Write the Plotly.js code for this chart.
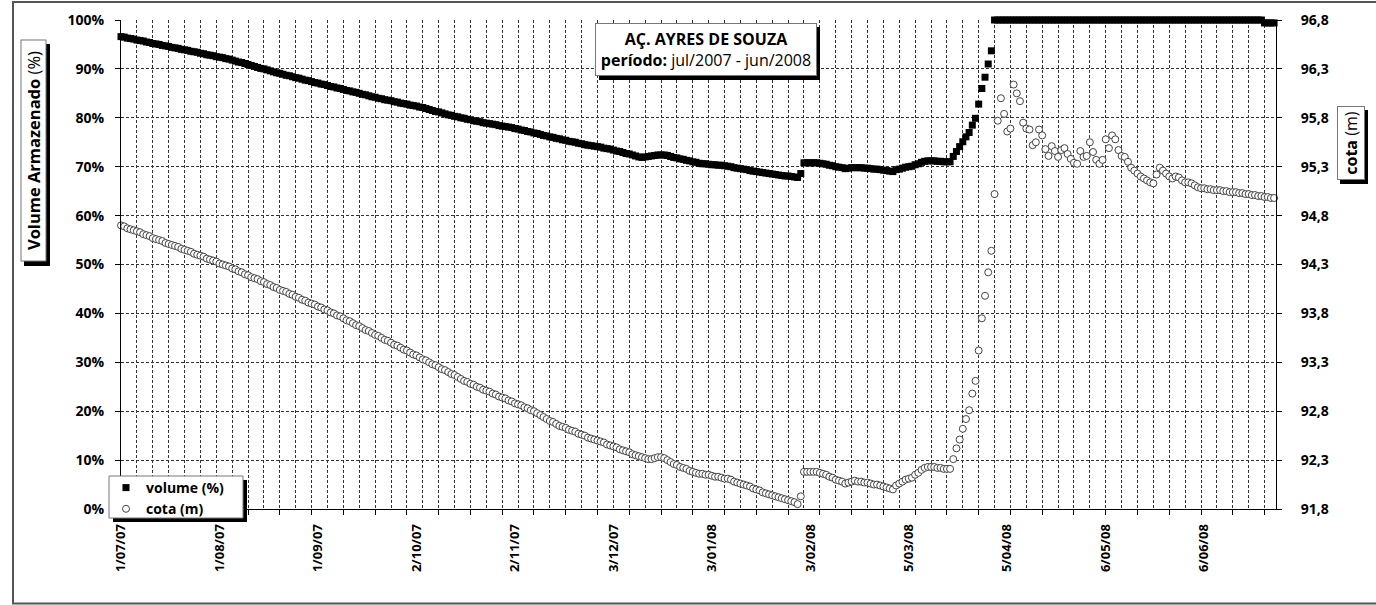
<!DOCTYPE html>
<html><head><meta charset="utf-8">
<script src="https://cdn.plot.ly/plotly-3.0.1.min.js"></script>
<style>html,body{margin:0;padding:0;background:#fff;}#chart{width:1376px;height:605px;}</style>
</head><body><div id="chart"></div>
<script>
// ---------- DATA ----------
const startDate = '2007-07-01';
const endRange = '2008-06-28 14:24';
const tickDates = ['2007-07-01','2007-08-01','2007-09-01','2007-10-02','2007-11-02','2007-12-03',
                   '2008-01-03','2008-02-03','2008-03-05','2008-04-05','2008-05-06','2008-06-06'];
const tickLabels = ['1/07/07','1/08/07','1/09/07','2/10/07','2/11/07','3/12/07',
                    '3/01/08','3/02/08','5/03/08','5/04/08','6/05/08','6/06/08'];
const yLeftTicks = [0,10,20,30,40,50,60,70,80,90,100];
const yLeftLabels = ['0%','10%','20%','30%','40%','50%','60%','70%','80%','90%','100%'];
const yRightTicks = [91.8,92.3,92.8,93.3,93.8,94.3,94.8,95.3,95.8,96.3,96.8];

// volume (%) - daily from 1/07/07
const volume = [
96.6,96.5,96.3,96.2,96.1,95.9,95.8,95.7,95.5,95.4,
95.2,95.1,95.0,94.8,94.7,94.6,94.4,94.3,94.2,94.0,
93.9,93.8,93.6,93.5,93.4,93.2,93.1,92.9,92.8,92.7,
92.5,92.4,92.3,92.1,92.0,91.8,91.6,91.4,91.3,91.1,
90.9,90.7,90.5,90.3,90.1,90.0,89.8,89.6,89.4,89.2,
89.1,88.9,88.7,88.6,88.4,88.2,88.1,87.9,87.7,87.6,
87.4,87.2,87.1,86.9,86.8,86.6,86.4,86.3,86.1,86.0,
85.8,85.6,85.5,85.3,85.2,85.0,84.8,84.7,84.5,84.3,
84.2,84.0,83.9,83.7,83.6,83.5,83.3,83.2,83.0,82.9,
82.8,82.6,82.5,82.4,82.2,82.1,81.9,81.7,81.5,81.3,
81.2,81.0,80.8,80.6,80.5,80.3,80.2,80.0,79.9,79.7,
79.6,79.4,79.3,79.2,79.0,78.9,78.8,78.7,78.6,78.4,
78.3,78.2,78.1,78.0,77.8,77.7,77.5,77.4,77.2,77.1,
76.9,76.8,76.6,76.4,76.3,76.1,76.0,75.8,75.7,75.5,
75.4,75.2,75.1,75.0,74.8,74.7,74.5,74.4,74.3,74.2,
74.1,74.0,73.8,73.7,73.6,73.4,73.2,73.1,72.9,72.7,
72.6,72.4,72.2,72.0,71.9,72.0,72.1,72.2,72.3,72.4,
72.4,72.4,72.3,72.1,71.9,71.8,71.6,71.5,71.3,71.2,
71.0,70.9,70.7,70.6,70.6,70.5,70.4,70.4,70.3,70.3,
70.2,70.1,70.0,69.8,69.7,69.6,69.5,69.4,69.2,69.1,
69.0,68.9,68.8,68.7,68.6,68.5,68.4,68.3,68.2,68.1,
68.1,68.0,67.9,67.8,68.6,70.8,70.8,70.8,70.8,70.8,
70.7,70.6,70.5,70.3,70.2,70.0,69.9,69.8,69.6,69.7,
69.8,69.8,69.8,69.8,69.7,69.7,69.6,69.5,69.5,69.4,
69.3,69.2,69.1,69.0,69.4,69.5,69.7,69.9,70.0,70.1,
70.4,70.6,70.9,71.1,71.2,71.2,71.2,71.1,71.1,71.0,
71.0,71.0,72.1,73.1,74.1,75.1,76.1,77.0,78.5,79.9,
82.8,86.0,88.3,91.0,93.7,100,100,100,100,100,
100,100,100,100,100,100,100,100,100,100,
100,100,100,100,100,100,100,100,100,100,
100,100,100,100,100,100,100,100,100,100,
100,100,100,100,100,100,100,100,100,100,
100,100,100,100,100,100,100,100,100,100,
100,100,100,100,100,100,100,100,100,100,
100,100,100,100,100,100,100,100,100,100,
100,100,100,100,100,100,100,100,100,100,
99.4,99.4,99.4,99.4
];

// cota (m) - daily from 1/07/07
const cota = [
94.70,94.69,94.67,94.66,94.65,94.64,94.63,94.61,94.60,94.59,
94.57,94.56,94.55,94.54,94.52,94.51,94.50,94.49,94.48,94.46,
94.45,94.44,94.43,94.41,94.40,94.39,94.38,94.36,94.35,94.34,
94.33,94.31,94.30,94.29,94.28,94.26,94.25,94.23,94.22,94.20,
94.19,94.17,94.16,94.15,94.13,94.12,94.10,94.09,94.07,94.06,
94.04,94.03,94.02,94.00,93.99,93.97,93.96,93.94,93.93,93.91,
93.90,93.89,93.87,93.86,93.84,93.83,93.81,93.80,93.78,93.77,
93.75,93.73,93.72,93.70,93.68,93.67,93.65,93.63,93.62,93.60,
93.58,93.57,93.55,93.53,93.52,93.50,93.48,93.47,93.45,93.43,
93.42,93.40,93.38,93.37,93.35,93.33,93.32,93.30,93.28,93.27,
93.25,93.23,93.22,93.20,93.18,93.17,93.15,93.13,93.11,93.10,
93.08,93.07,93.05,93.04,93.02,93.01,93.00,92.98,92.97,92.95,
92.94,92.93,92.91,92.90,92.88,92.87,92.86,92.84,92.83,92.81,
92.80,92.78,92.76,92.74,92.72,92.70,92.69,92.67,92.65,92.64,
92.63,92.61,92.60,92.59,92.57,92.56,92.55,92.53,92.52,92.51,
92.50,92.49,92.48,92.46,92.45,92.44,92.43,92.41,92.40,92.39,
92.38,92.36,92.35,92.34,92.33,92.32,92.31,92.31,92.32,92.33,
92.33,92.32,92.30,92.28,92.26,92.25,92.23,92.22,92.21,92.19,
92.18,92.17,92.16,92.16,92.15,92.15,92.14,92.13,92.13,92.12,
92.11,92.11,92.10,92.08,92.07,92.06,92.05,92.04,92.03,92.01,
92.00,91.99,91.97,91.96,91.95,91.94,91.93,91.92,91.91,91.90,
91.89,91.88,91.87,91.85,91.93,92.18,92.18,92.18,92.18,92.18,
92.17,92.16,92.15,92.13,92.12,92.10,92.09,92.08,92.06,92.07,
92.08,92.09,92.08,92.08,92.07,92.07,92.06,92.05,92.05,92.04,
92.03,92.02,92.01,92.00,92.04,92.06,92.08,92.10,92.11,92.12,
92.15,92.17,92.20,92.22,92.23,92.23,92.23,92.22,92.22,92.21,
92.21,92.21,92.31,92.42,92.51,92.62,92.72,92.81,92.98,93.11,
93.42,93.75,93.98,94.22,94.44,95.02,95.77,96.00,95.84,95.66,
95.69,96.14,96.05,95.97,95.75,95.69,95.68,95.52,95.55,95.68,
95.62,95.48,95.41,95.51,95.46,95.40,95.47,95.49,95.43,95.38,
95.34,95.33,95.46,95.40,95.41,95.55,95.45,95.37,95.33,95.37,
95.58,95.49,95.62,95.58,95.47,95.41,95.40,95.35,95.29,95.26,
95.23,95.20,95.18,95.16,95.14,95.13,95.22,95.29,95.26,95.23,
95.20,95.18,95.20,95.19,95.16,95.14,95.14,95.13,95.11,95.09,
95.08,95.08,95.07,95.07,95.06,95.06,95.06,95.05,95.05,95.04,
95.04,95.04,95.03,95.03,95.02,95.02,95.01,95.01,95.00,95.00,
94.99,94.99,94.98,94.98
];

// daily date axis (one reading per day from startDate)
const dates = volume.map((_, i) => new Date(Date.UTC(2007, 6, 1) + i * 86400000).toISOString().slice(0, 10));

// ---------- LAYOUT HELPERS ----------
const FONT = 'Open Sans, sans-serif';
const L = 121, R = 1276, T = 20, B = 509, W = R - L, H = B - T;
const px = x => (x - L) / W;
const py = y => (B - y) / H;
const DAY = 86400000;
const GRID = '#333';
const GDASH = '3px,2px';

function rectPx(x0, y0, x1, y1, opts) {
  return Object.assign({type: 'rect', xref: 'paper', yref: 'paper',
    x0: px(x0), x1: px(x1), y0: py(y1), y1: py(y0)}, opts);
}

const traces = [
  {type: 'scatter', mode: 'markers', name: 'volume (%)', x: dates, y: volume,
   xaxis: 'x', yaxis: 'y', cliponaxis: false,
   marker: {symbol: 'square', size: 7, color: '#000', line: {width: 0}}},
  {type: 'scatter', mode: 'markers', name: 'cota (m)', x: dates, y: cota,
   xaxis: 'x2', yaxis: 'y2', cliponaxis: false,
   marker: {symbol: 'circle', size: 7, color: '#fff', line: {width: 1, color: '#444'}}}
];

const layout = {
  width: 1376, height: 605,
  margin: {l: L, r: 1376 - R, t: T, b: 605 - B, pad: 0},
  paper_bgcolor: '#fff', plot_bgcolor: '#fff',
  separators: ',.',
  font: {family: FONT, color: '#000'},
  showlegend: true,
  legend: {x: px(106), y: py(472), xanchor: 'left', yanchor: 'top',
    bgcolor: 'rgba(0,0,0,0)', borderwidth: 0,
    font: {family: FONT, size: 14, weight: 700, color: '#000'}, tracegroupgap: 0},
  xaxis: {type: 'date', range: [startDate, endRange], tickmode: 'array',
    tickvals: tickDates, ticktext: tickLabels, tickangle: -90, ticks: '',
    showgrid: false, showline: true, linecolor: '#000', linewidth: 1, zeroline: false,
    tickfont: {family: FONT, size: 13, weight: 700, color: '#000'}, ticklabelstandoff: 9},
  xaxis2: {type: 'date', overlaying: 'x', anchor: 'y2', side: 'bottom', range: [startDate, endRange],
    tickmode: 'linear', tick0: startDate, dtick: 10 * DAY, ticks: 'outside', ticklen: 5,
    tickcolor: '#000', showticklabels: false, showline: false, zeroline: false,
    showgrid: true, gridcolor: GRID, griddash: GDASH, gridwidth: 1,
    minor: {tick0: startDate, dtick: 5 * DAY, showgrid: true, gridcolor: GRID, griddash: GDASH, gridwidth: 1, ticks: ''}},
  yaxis: {range: [0, 100], tickmode: 'array', tickvals: yLeftTicks, ticktext: yLeftLabels,
    ticks: 'outside', ticklen: 5, tickcolor: '#000', showline: true, linecolor: '#000',
    showgrid: true, gridcolor: GRID, griddash: GDASH, gridwidth: 1, zeroline: false,
    tickfont: {family: FONT, size: 14, weight: 700, color: '#000'}, ticklabelstandoff: 8},
  yaxis2: {range: [91.8, 96.8], overlaying: 'y', side: 'right', anchor: 'x2',
    tickmode: 'array', tickvals: yRightTicks, tickformat: '.1f',
    ticks: 'outside', ticklen: 5, tickcolor: '#000', showline: true, linecolor: '#000',
    showgrid: false, zeroline: false,
    tickfont: {family: FONT, size: 14, weight: 700, color: '#000'}, ticklabelstandoff: 16},
  shapes: [
    rectPx(13, 2, 1385, 603.5, {line: {color: '#555', width: 2}, fillcolor: 'rgba(0,0,0,0)', layer: 'below'}),
    // title shadow
    rectPx(599, 27, 820, 80, {fillcolor: '#000', line: {width: 0}, layer: 'above'}),
    // legend box with shadow
    rectPx(113, 480, 247, 522, {fillcolor: '#000', line: {width: 0}, layer: 'above'}),
    rectPx(109, 476, 243, 518, {fillcolor: '#fff', line: {width: 1, color: '#777'}, layer: 'above'}),
    // axis title shadows
    rectPx(24, 44, 50, 266, {fillcolor: '#000', line: {width: 0}, layer: 'above'}),
    rectPx(1340, 110, 1368, 184, {fillcolor: '#000', line: {width: 0}, layer: 'above'})
  ],
  annotations: [
    {xref: 'paper', yref: 'paper', x: px(706), y: py(49.5), xanchor: 'center', yanchor: 'middle',
     text: '<b>AÇ. AYRES DE SOUZA</b><br><b>período:</b> jul/2007 - jun/2008',
     showarrow: false, align: 'center', width: 220, height: 51, borderpad: 0,
     bgcolor: '#fff', bordercolor: '#777', borderwidth: 1,
     font: {family: FONT, size: 16, color: '#000'}},
    {xref: 'paper', yref: 'paper', x: px(33.5), y: py(151), xanchor: 'center', yanchor: 'middle',
     text: '<b>Volume Armazenado</b> (%)', textangle: -90,
     showarrow: false, width: 220, height: 24, borderpad: 0,
     bgcolor: '#fff', bordercolor: '#777', borderwidth: 1,
     font: {family: FONT, size: 16.5, color: '#000'}},
    {xref: 'paper', yref: 'paper', x: px(1351), y: py(143), xanchor: 'center', yanchor: 'middle',
     text: '<b>cota</b> (m)', textangle: -90,
     showarrow: false, width: 72, height: 26, borderpad: 0,
     bgcolor: '#fff', bordercolor: '#777', borderwidth: 1,
     font: {family: FONT, size: 16, color: '#000'}}
  ]
};

Plotly.newPlot('chart', traces, layout, {staticPlot: true, displayModeBar: false});
</script>
</body></html>
